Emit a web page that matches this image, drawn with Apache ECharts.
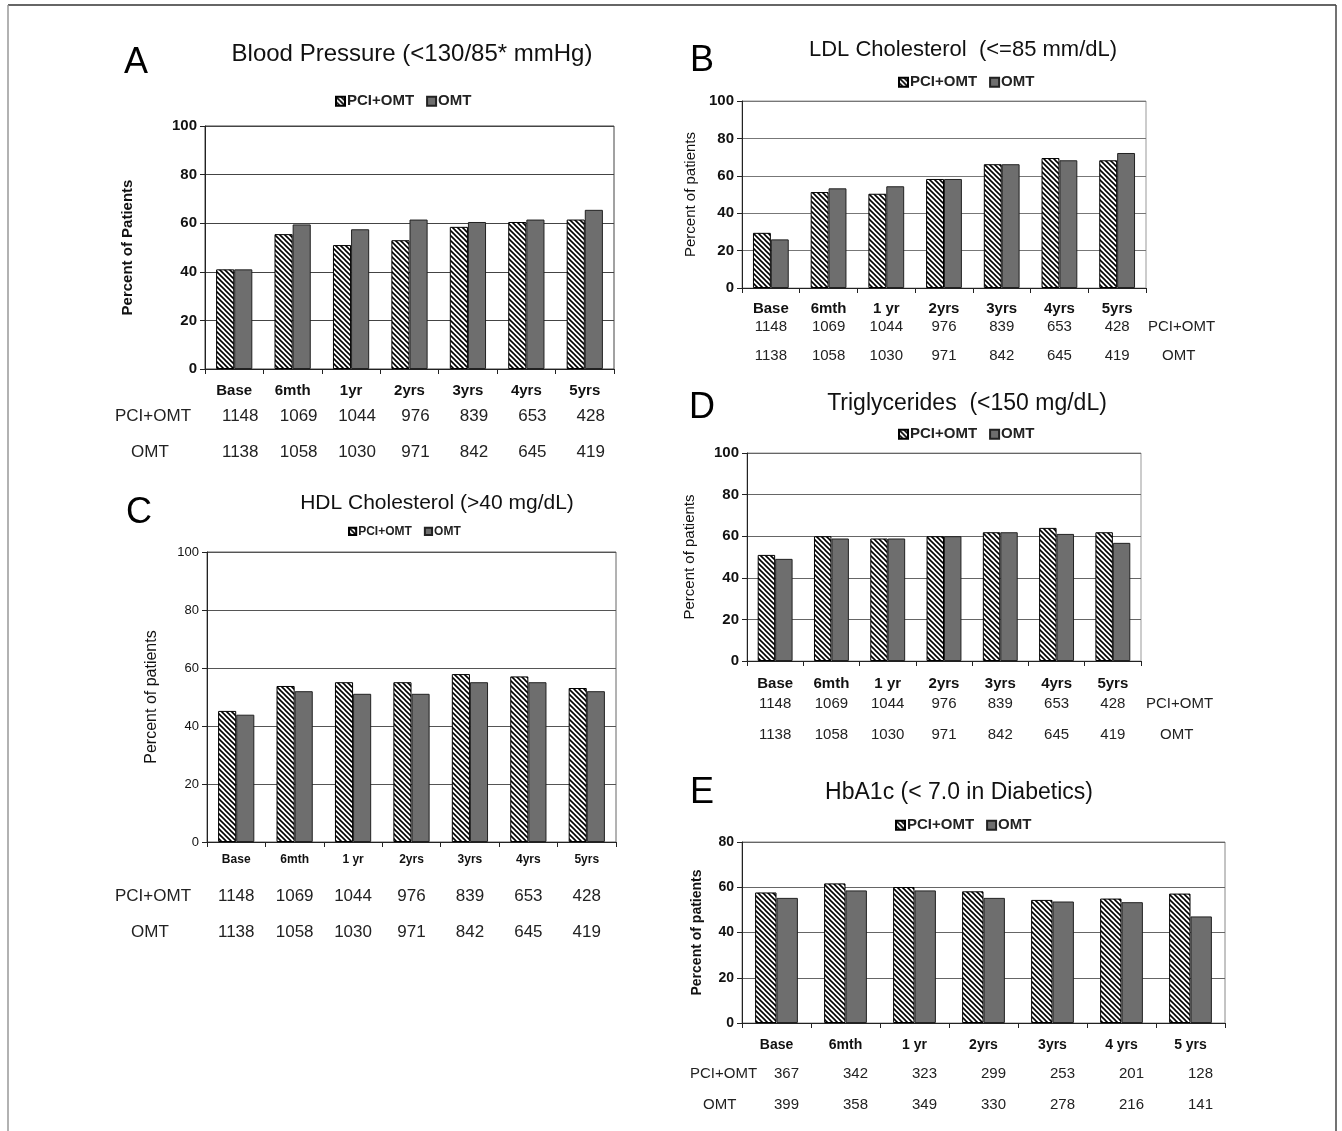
<!DOCTYPE html>
<html><head><meta charset="utf-8">
<script src="https://cdn.jsdelivr.net/npm/echarts@6/dist/echarts.min.js"></script>
<style>html,body{margin:0;padding:0;background:#fff}#c{width:1342px;height:1131px}</style>
</head><body><div id="c"></div>
<script>
// ---------- DATA ----------
const categoriesA = ['Base','6mth','1yr','2yrs','3yrs','4yrs','5yrs'];
const categoriesBCD = ['Base','6mth','1 yr','2yrs','3yrs','4yrs','5yrs'];
const categoriesE = ['Base','6mth','1 yr','2yrs','3yrs','4 yrs','5 yrs'];
const seriesNames = ['PCI+OMT','OMT'];
const titles = ['Blood Pressure (<130/85* mmHg)','LDL Cholesterol  (<=85 mm/dL)','HDL Cholesterol (>40 mg/dL)','Triglycerides  (<150 mg/dL)','HbA1c (< 7.0 in Diabetics)'];
const letters = ['A','B','C','D','E'];
const bpPCI  = [41, 55.5, 51, 53, 58.5, 60.5, 61.5];
const bpOMT  = [41, 59.5, 57.5, 61.5, 60.5, 61.5, 65.5];
const ldlPCI = [29.5, 51.3, 50.4, 58.3, 66.2, 69.5, 68.3];
const ldlOMT = [26, 53.3, 54.4, 58.3, 66.2, 68.3, 72.2];
const hdlPCI = [45.2, 53.8, 55.1, 55.1, 57.9, 57.1, 53.1];
const hdlOMT = [43.9, 52, 51.1, 51.1, 55.1, 55.1, 52];
const tgPCI  = [51, 60, 58.9, 60, 61.9, 64, 61.9];
const tgOMT  = [49.1, 58.9, 58.9, 60, 61.9, 61.1, 56.8];
const hbPCI  = [57.7, 61.7, 60.1, 58.2, 54.4, 55, 57.2];
const hbOMT  = [55.3, 58.6, 58.6, 55.3, 53.7, 53.4, 47.1];
const nPCI = [1148, 1069, 1044, 976, 839, 653, 428];
const nOMT = [1138, 1058, 1030, 971, 842, 645, 419];
const nPCIdiab = [367, 342, 323, 299, 253, 201, 128];
const nOMTdiab = [399, 358, 349, 330, 278, 216, 141];
const yMax = [100, 100, 100, 100, 80];
const yNames = ['Percent of Patients','Percent of patients','Percent of patients','Percent of patients','Percent of patients'];

const panelData = [
  {cats: categoriesA,   pci: bpPCI,  omt: bpOMT,  n1: nPCI,     n2: nOMT},
  {cats: categoriesBCD, pci: ldlPCI, omt: ldlOMT, n1: nPCI,     n2: nOMT},
  {cats: categoriesBCD, pci: hdlPCI, omt: hdlOMT, n1: nPCI,     n2: nOMT},
  {cats: categoriesBCD, pci: tgPCI,  omt: tgOMT,  n1: nPCI,     n2: nOMT},
  {cats: categoriesE,   pci: hbPCI,  omt: hbOMT,  n1: nPCIdiab, n2: nOMTdiab}
];

// ---------- LAYOUT / STYLE ----------
const FONT = '"Liberation Sans", Arial, sans-serif';
const layouts = [
  {grid:{left:205,top:126,width:409,height:243}, letter:{x:131,y:60}, title:{x:407,y:52,size:24}, legend:{left:330,y:97,size:15},
   yLabel:{size:15,bold:true}, yName:{size:15,bold:true,gap:70}, xLabel:{size:15,bold:true,y:391},
   counts:{size:17,y1:416,y2:452,shift:6}, rows:[{x:115,y:416,a:'left'},{x:131,y:452,a:'left'}], rowSize:17, split:'#444', border:'#444'},
  {grid:{left:742,top:101,width:404,height:187}, letter:{x:697,y:58}, title:{x:958,y:47,size:22}, legend:{left:893,y:78,size:15},
   yLabel:{size:15,bold:true}, yName:{size:15,bold:false,gap:44}, xLabel:{size:15,bold:true,y:309},
   counts:{size:15,y1:327,y2:356,shift:0}, rows:[{x:1148,y:327,a:'left'},{x:1162,y:356,a:'left'}], rowSize:15, split:'#777', border:'#999'},
  {grid:{left:207,top:552,width:409,height:290}, letter:{x:134,y:510}, title:{x:432,y:500,size:21}, legend:{left:343,y:527,size:12},
   yLabel:{size:13,bold:false}, yName:{size:16,bold:false,gap:47}, xLabel:{size:12,bold:true,y:860},
   counts:{size:17,y1:896,y2:932,shift:0}, rows:[{x:115,y:896,a:'left'},{x:131,y:932,a:'left'}], rowSize:17, split:'#555', border:'#666'},
  {grid:{left:747,top:453,width:394,height:208}, letter:{x:697,y:405}, title:{x:962,y:401,size:23}, legend:{left:893,y:430,size:15},
   yLabel:{size:15,bold:true}, yName:{size:15,bold:false,gap:50}, xLabel:{size:15,bold:true,y:684},
   counts:{size:15,y1:704,y2:735,shift:0}, rows:[{x:1146,y:704,a:'left'},{x:1160,y:735,a:'left'}], rowSize:15, split:'#666', border:'#999'},
  {grid:{left:742,top:842,width:483,height:181}, letter:{x:697,y:790}, title:{x:954,y:790,size:23}, legend:{left:890,y:821,size:15},
   yLabel:{size:14,bold:true}, yName:{size:14,bold:true,gap:38}, xLabel:{size:14,bold:true,y:1045},
   counts:{size:15,y1:1074,y2:1105,shift:10}, rows:[{x:690,y:1074,a:'left'},{x:703,y:1105,a:'left'}], rowSize:15, split:'#666', border:'#888'}
];

function makeHatch(){
  const s = 5;
  const c = document.createElement('canvas');
  c.width = s; c.height = s;
  const g = c.getContext('2d');
  g.fillStyle = '#fff'; g.fillRect(0,0,s,s);
  g.strokeStyle = '#000'; g.lineWidth = 1.6;
  for (const o of [-s, 0, s]) { g.beginPath(); g.moveTo(o - 1, -1); g.lineTo(o + s + 1, s + 1); g.stroke(); }
  return c;
}
const hatch = {image: makeHatch(), repeat: 'repeat'};
const GRAY = '#6e6e6e';

const grid = [], xAxis = [], yAxis = [], series = [], title = [], legend = [], graphic = [];

panelData.forEach((p, i) => {
  const L = layouts[i];
  const bottom = L.grid.top + L.grid.height;
  grid.push(Object.assign({show: true, borderColor: L.border, borderWidth: 1, backgroundColor: 'transparent'}, L.grid));
  const base = xAxis.length;
  xAxis.push({
    type: 'category', gridIndex: i, data: p.cats, position: 'bottom',
    axisLine: {lineStyle: {color: '#222', width: 1}},
    axisTick: {show: true, length: 5, lineStyle: {color: '#222'}},
    axisLabel: {fontFamily: FONT, fontSize: L.xLabel.size, fontWeight: L.xLabel.bold ? 'bold' : 'normal', color: '#111',
                margin: L.xLabel.y - bottom - L.xLabel.size / 2, interval: 0}
  });
  [[p.n1, L.counts.y1], [p.n2, L.counts.y2]].forEach(([arr, y]) => {
    xAxis.push({
      type: 'category', gridIndex: i, data: p.cats, position: 'bottom', offset: 0,
      axisLine: {show: false}, axisTick: {show: false}, splitLine: {show: false},
      axisLabel: {fontFamily: FONT, fontSize: L.counts.size, color: '#222', interval: 0,
                  margin: y - bottom - L.counts.size / 2,
                  padding: [0, 0, 0, L.counts.shift * 2],
                  formatter: (v, idx) => String(arr[idx])}
    });
  });
  yAxis.push({
    type: 'value', gridIndex: i, min: 0, max: yMax[i], interval: 20,
    name: yNames[i], nameLocation: 'middle', nameGap: L.yName.gap,
    nameTextStyle: {fontFamily: FONT, fontSize: L.yName.size, fontWeight: L.yName.bold ? 'bold' : 'normal', color: '#111'},
    axisLine: {show: true, lineStyle: {color: '#222'}},
    axisTick: {show: true, length: 5, lineStyle: {color: '#222'}},
    axisLabel: {fontFamily: FONT, fontSize: L.yLabel.size, fontWeight: L.yLabel.bold ? 'bold' : 'normal', color: '#111', margin: 8},
    splitLine: {show: true, lineStyle: {color: L.split, width: 1}}
  });
  series.push({
    type: 'bar', name: seriesNames[0], xAxisIndex: base, yAxisIndex: i, data: p.pci,
    barGap: '0%', barCategoryGap: '38%',
    itemStyle: {color: hatch, borderColor: '#000', borderWidth: 1}, animation: false
  });
  series.push({
    type: 'bar', name: seriesNames[1], xAxisIndex: base, yAxisIndex: i, data: p.omt,
    barGap: '0%', barCategoryGap: '38%',
    itemStyle: {color: GRAY, borderColor: '#222', borderWidth: 1}, animation: false
  });
  title.push({
    text: titles[i], left: L.title.x, top: L.title.y - L.title.size * 0.6, textAlign: 'center',
    textStyle: {fontFamily: FONT, fontSize: L.title.size, fontWeight: 'normal', color: '#111'}
  });
  title.push({
    text: letters[i], left: L.letter.x, top: L.letter.y - 20, textAlign: 'center',
    textStyle: {fontFamily: FONT, fontSize: 36, fontWeight: 'normal', color: '#000'}
  });
  legend.push({
    data: seriesNames, left: L.legend.left, top: L.legend.y - L.legend.size * 0.55,
    itemWidth: L.legend.size * 0.6, itemHeight: L.legend.size * 0.6, itemGap: 12, icon: 'rect',
    textStyle: {fontFamily: FONT, fontSize: L.legend.size, fontWeight: 'bold', color: '#222', padding: [0, 0, 0, -3]},
    selectedMode: false
  });
  L.rows.forEach((r, k) => {
    graphic.push({
      type: 'text', x: r.x, y: r.y,
      style: {text: seriesNames[k], font: L.rowSize + 'px ' + FONT, fill: '#222', textAlign: r.a, textVerticalAlign: 'middle'}
    });
  });
});

// page frame
graphic.push({type: 'line', shape: {x1: 8, y1: 5, x2: 1336, y2: 5}, style: {stroke: '#333', lineWidth: 1.5}});
graphic.push({type: 'line', shape: {x1: 8, y1: 5, x2: 8, y2: 1131}, style: {stroke: '#999', lineWidth: 1.5}});
graphic.push({type: 'line', shape: {x1: 1336, y1: 5, x2: 1336, y2: 1131}, style: {stroke: '#444', lineWidth: 1.5}});

const chart = echarts.init(document.getElementById('c'), null, {renderer: 'canvas'});
chart.setOption({
  animation: false, backgroundColor: '#fff',
  title, legend, grid, xAxis, yAxis, series, graphic
});
</script>
</body></html>
